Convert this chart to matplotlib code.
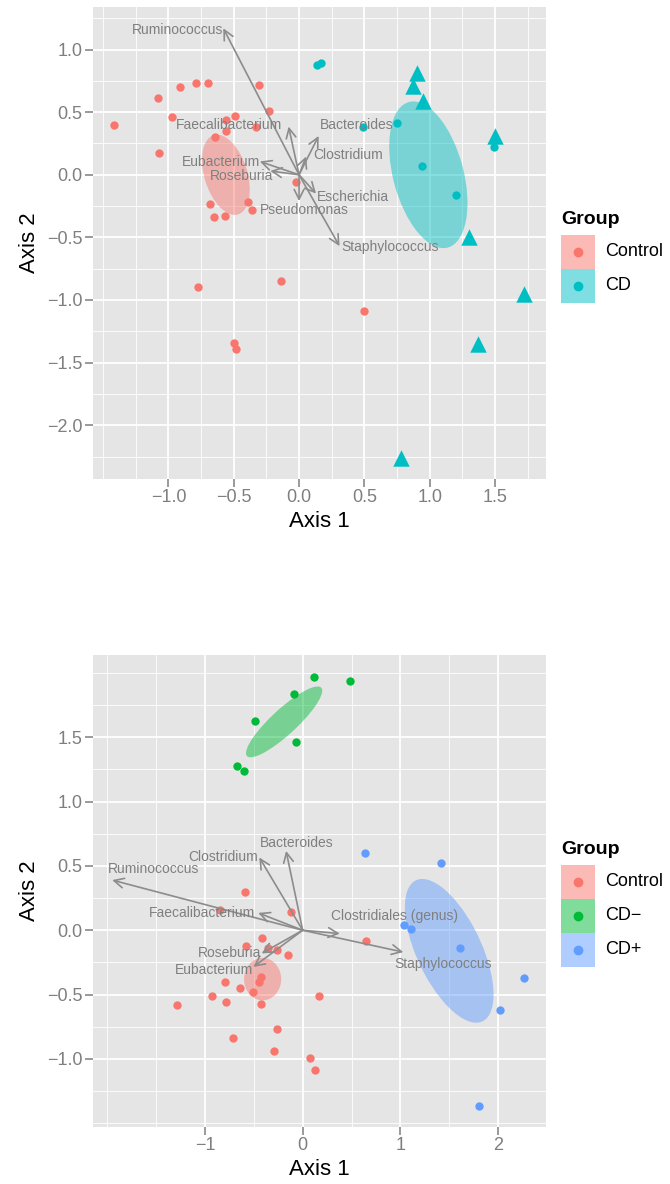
import matplotlib.pyplot as plt
from matplotlib.patches import Ellipse, Rectangle
from matplotlib.lines import Line2D
from matplotlib.ticker import FixedLocator, FuncFormatter

plt.rcParams['font.family'] = ['Liberation Sans', 'DejaVu Sans']

# ---- colours (ggplot hue palette) ----
col_ctrl = '#F8766D'
col_cd = '#00BFC4'
col_cdneg = '#00BA38'
col_cdpos = '#619CFF'
arrow_col = '#8C8C8C'
label_col = '#7F7F7F'

# ---- top panel: Control vs CD ----
top_ctrl_x = [-1.42, -1.08, -0.91, -0.79, -0.70, -0.31, -0.23, -0.97, -0.56, -0.49,
              -0.33, -0.64, -0.56, -1.07, -0.02, -0.68, -0.39, -0.36, -0.65, -0.57,
              -0.77, -0.14, 0.50, -0.50, -0.48]
top_ctrl_y = [0.40, 0.61, 0.70, 0.73, 0.73, 0.72, 0.51, 0.46, 0.44, 0.47,
              0.38, 0.30, 0.35, 0.17, -0.06, -0.23, -0.22, -0.28, -0.34, -0.33,
              -0.90, -0.85, -1.09, -1.34, -1.39]
top_cd_x = [0.14, 0.17, 0.49, 0.75, 0.94, 1.20, 1.49]
top_cd_y = [0.88, 0.89, 0.38, 0.41, 0.07, -0.16, 0.22]
top_cd_tri_x = [0.90, 0.87, 0.95, 1.50, 1.30, 1.72, 1.37, 0.78]
top_cd_tri_y = [0.81, 0.71, 0.59, 0.31, -0.50, -0.95, -1.35, -2.26]

top_taxa = ['Ruminococcus', 'Faecalibacterium', 'Bacteroides', 'Clostridium', 'Eubacterium',
            'Roseburia', 'Escherichia', 'Pseudomonas', 'Staphylococcus']
top_load_x = [-0.58, -0.08, 0.15, 0.055, -0.30, -0.22, 0.13, 0.0, 0.31]
top_load_y = [1.17, 0.385, 0.31, 0.146, 0.106, 0.03, -0.15, -0.21, -0.57]

# confidence ellipses: centre x, centre y, major, minor, angle
top_ell_groups = ['Control', 'CD']
top_ell_cx = [-0.56, 0.99]
top_ell_cy = [0.0, 0.0]
top_ell_w = [0.66, 1.20]
top_ell_h = [0.33, 0.54]
top_ell_ang = [106, 104]

# ---- bottom panel: Control vs CD- vs CD+ ----
bot_ctrl_x = [-0.59, -0.85, -0.12, -0.42, -0.58, -0.35, -0.26, -0.15, 0.65, -0.43,
              -0.45, -0.80, -0.64, -0.51, -0.93, -0.78, -0.43, -1.29, 0.17, -0.26,
              -0.71, -0.29, 0.08, 0.13]
bot_ctrl_y = [0.30, 0.16, 0.14, -0.06, -0.12, -0.14, -0.15, -0.19, -0.085, -0.36,
              -0.40, -0.40, -0.45, -0.48, -0.51, -0.56, -0.57, -0.58, -0.51, -0.77,
              -0.84, -0.94, -0.99, -1.09]
bot_cdneg_x = [0.12, 0.48, -0.09, -0.49, -0.07, -0.67, -0.60]
bot_cdneg_y = [1.97, 1.94, 1.84, 1.63, 1.46, 1.28, 1.24]
bot_cdpos_x = [0.64, 1.42, 1.04, 1.11, 1.61, 2.27, 2.02, 1.80]
bot_cdpos_y = [0.60, 0.52, 0.04, 0.01, -0.14, -0.37, -0.62, -1.37]

bot_taxa = ['Ruminococcus', 'Clostridium', 'Bacteroides', 'Faecalibacterium',
            'Clostridiales (genus)', 'Staphylococcus', 'Roseburia', 'Eubacterium']
bot_load_x = [-1.95, -0.444, -0.17, -0.455, 0.38, 1.03, -0.42, -0.505]
bot_load_y = [0.39, 0.566, 0.617, 0.135, -0.026, -0.17, -0.18, -0.285]

bot_ell_groups = ['Control', 'CD\u2212', 'CD+']
bot_ell_cx = [-0.41, -0.19, 1.50]
bot_ell_cy = [-0.38, 1.62, -0.16]
bot_ell_w = [0.38, 0.93, 1.30]
bot_ell_h = [0.33, 0.22, 0.62]
bot_ell_ang = [0, 34, -54.5]

# label placement for the arrow labels: (ha, dx, dy) relative to the arrow tip
top_lab = {'Ruminococcus': ('right', 0.0, -0.01), 'Faecalibacterium': ('right', -0.05, 0.015),
           'Bacteroides': ('left', 0.01, 0.085), 'Clostridium': ('left', 0.05, 0.01),
           'Eubacterium': ('right', 0.0, -0.005), 'Roseburia': ('right', 0.02, -0.04),
           'Escherichia': ('left', 0.01, -0.025), 'Pseudomonas': ('center', 0.04, -0.075),
           'Staphylococcus': ('left', 0.01, -0.01)}
bot_lab = {'Ruminococcus': ('center', 0.42, 0.09), 'Clostridium': ('right', -0.01, 0.0),
           'Bacteroides': ('center', 0.11, 0.065), 'Faecalibacterium': ('right', -0.03, 0.0),
           'Clostridiales (genus)': ('left', -0.09, 0.136), 'Staphylococcus': ('left', -0.09, -0.09),
           'Roseburia': ('right', 0.0, 0.0), 'Eubacterium': ('right', 0.0, -0.025)}


def minus_fmt(fmt):
    # ggplot prints a real minus sign
    return FuncFormatter(lambda v, pos: (fmt % v).replace('-', '\u2212'))


def style_axes(ax, xlim, ylim, xmaj, ymaj, xmin, ymin, xfmt, yfmt):
    ax.set_facecolor('#E5E5E5')
    for s in ax.spines.values():
        s.set_visible(False)
    ax.set_xlim(xlim)
    ax.set_ylim(ylim)
    ax.xaxis.set_major_locator(FixedLocator(xmaj))
    ax.yaxis.set_major_locator(FixedLocator(ymaj))
    ax.xaxis.set_minor_locator(FixedLocator(xmin))
    ax.yaxis.set_minor_locator(FixedLocator(ymin))
    ax.xaxis.set_major_formatter(minus_fmt(xfmt))
    ax.yaxis.set_major_formatter(minus_fmt(yfmt))
    ax.grid(which='major', color='white', linewidth=1.3)
    ax.grid(which='minor', color='white', linewidth=0.6)
    ax.set_axisbelow(True)
    ax.tick_params(which='major', color=label_col, labelcolor=label_col, labelsize=13,
                   length=5.5, width=1.1, pad=2)
    ax.tick_params(which='minor', length=0)
    ax.set_xlabel('Axis 1', fontsize=16, labelpad=3)
    ax.set_ylabel('Axis 2', fontsize=16, labelpad=5)


def draw_arrows(ax, taxa, lx, ly, layout):
    for name, x, y in zip(taxa, lx, ly):
        ax.annotate('', xy=(x, y), xytext=(0, 0),
                    arrowprops=dict(arrowstyle='->,head_length=0.7,head_width=0.35',
                                    color=arrow_col, lw=1.2, shrinkA=0, shrinkB=0),
                    zorder=4)
        ha, dx, dy = layout[name]
        ax.text(x + dx, y + dy, name, ha=ha, va='center', fontsize=10,
                color=label_col, zorder=5)


def draw_legend(fig, title_py, names, colors):
    W, H = 670.0, 1184.0
    fig.text(561 / W, 1 - title_py / H, 'Group', fontsize=14, fontweight='bold',
             ha='left', va='center')
    for i, (name, col) in enumerate(zip(names, colors)):
        top = title_py + 15 + i * 34
        fig.add_artist(Rectangle((561 / W, 1 - (top + 34) / H), 34 / W, 34 / H,
                                 transform=fig.transFigure, facecolor=col, alpha=0.5,
                                 edgecolor='none'))
        fig.add_artist(Line2D([578 / W], [1 - (top + 17) / H], marker='o', markersize=6,
                              color=col, linestyle='none', transform=fig.transFigure))
        fig.text(605 / W, 1 - (top + 17) / H, name, fontsize=13, ha='left', va='center')


fig = plt.figure(figsize=(6.7, 11.84), dpi=100)

# ---- top plot ----
ax1 = fig.add_axes([0.1383, 0.5954, 0.6765, 0.3987])
style_axes(ax1, (-1.58, 1.89), (-2.43, 1.34),
           [-1.0, -0.5, 0.0, 0.5, 1.0, 1.5], [-2.0, -1.5, -1.0, -0.5, 0.0, 0.5, 1.0],
           [-1.5, -1.25, -0.75, -0.25, 0.25, 0.75, 1.25, 1.75],
           [-2.25, -1.75, -1.25, -0.75, -0.25, 0.25, 0.75, 1.25], '%.1f', '%.1f')

for cx, cy, w, h, a, c in zip(top_ell_cx, top_ell_cy, top_ell_w, top_ell_h, top_ell_ang,
                              [col_ctrl, col_cd]):
    ax1.add_patch(Ellipse((cx, cy), w, h, angle=a, facecolor=c, alpha=0.47,
                          edgecolor='none', zorder=1))

ax1.scatter(top_ctrl_x, top_ctrl_y, s=36, color=col_ctrl, zorder=3, linewidths=0)
ax1.scatter(top_cd_x, top_cd_y, s=36, color=col_cd, zorder=3, linewidths=0)
ax1.scatter(top_cd_tri_x, top_cd_tri_y, s=140, marker='^', color=col_cd, zorder=3,
            linewidths=0)
draw_arrows(ax1, top_taxa, top_load_x, top_load_y, top_lab)
draw_legend(fig, 220, top_ell_groups, [col_ctrl, col_cd])

# ---- bottom plot ----
ax2 = fig.add_axes([0.1383, 0.0481, 0.6765, 0.3987])
style_axes(ax2, (-2.15, 2.49), (-1.53, 2.14),
           [-1, 0, 1, 2], [-1.0, -0.5, 0.0, 0.5, 1.0, 1.5],
           [-2.0, -1.5, -0.5, 0.5, 1.5],
           [-1.5, -1.25, -0.75, -0.25, 0.25, 0.75, 1.25, 1.75, 2.0], '%d', '%.1f')

for cx, cy, w, h, a, c in zip(bot_ell_cx, bot_ell_cy, bot_ell_w, bot_ell_h, bot_ell_ang,
                              [col_ctrl, col_cdneg, col_cdpos]):
    ax2.add_patch(Ellipse((cx, cy), w, h, angle=a, facecolor=c, alpha=0.47,
                          edgecolor='none', zorder=1))

ax2.scatter(bot_ctrl_x, bot_ctrl_y, s=36, color=col_ctrl, zorder=3, linewidths=0)
ax2.scatter(bot_cdneg_x, bot_cdneg_y, s=36, color=col_cdneg, zorder=3, linewidths=0)
ax2.scatter(bot_cdpos_x, bot_cdpos_y, s=36, color=col_cdpos, zorder=3, linewidths=0)
draw_arrows(ax2, bot_taxa, bot_load_x, bot_load_y, bot_lab)
draw_legend(fig, 850, bot_ell_groups, [col_ctrl, col_cdneg, col_cdpos])

fig.savefig('out.png', dpi=100)
